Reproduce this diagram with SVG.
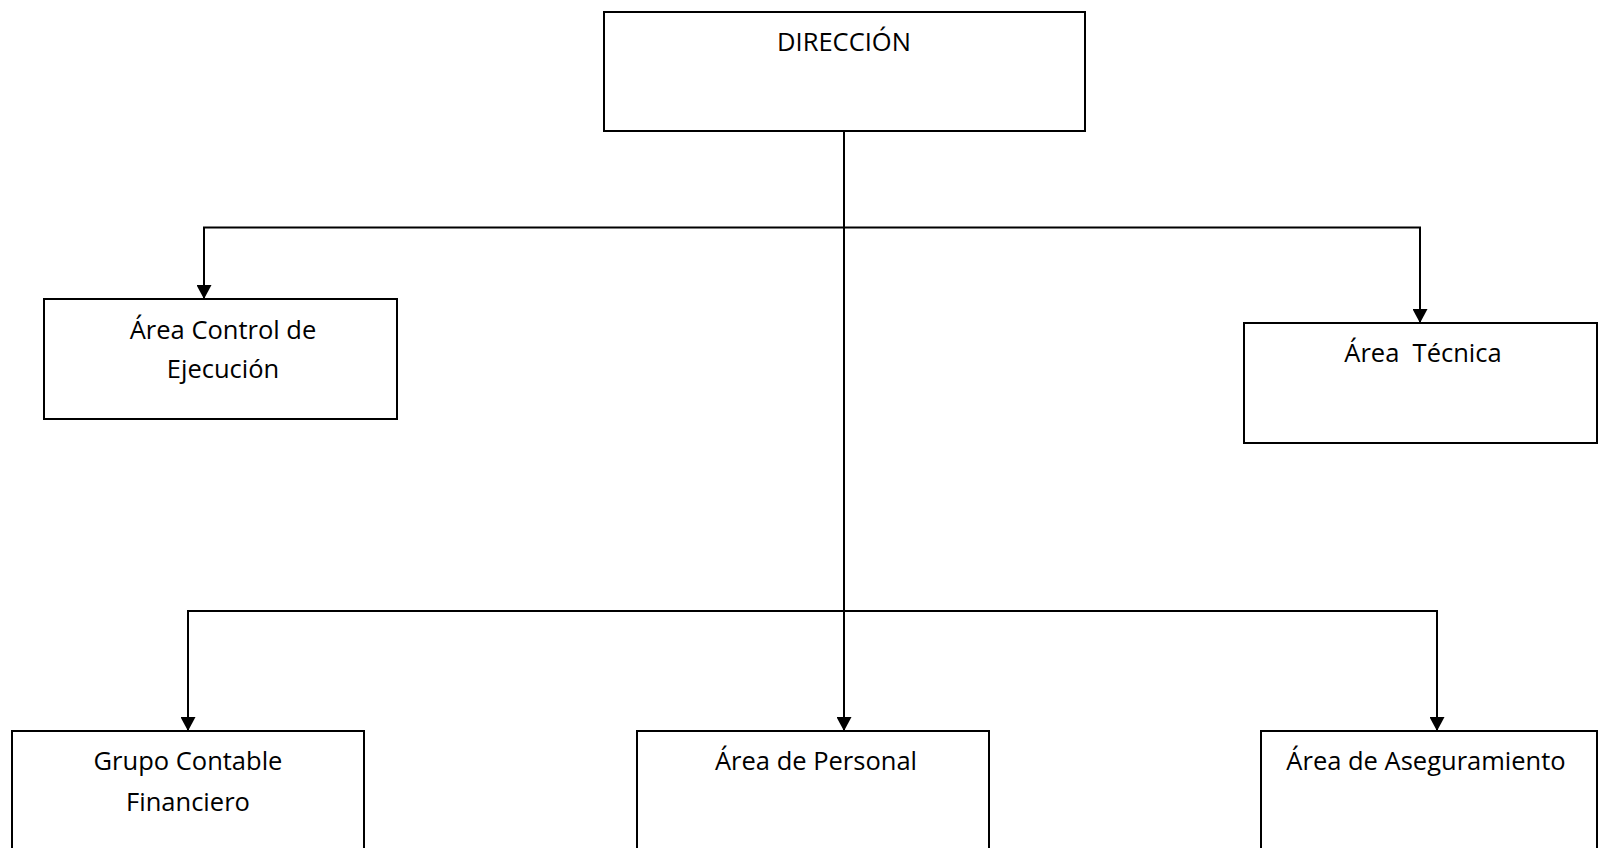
<svg xmlns="http://www.w3.org/2000/svg" width="1598" height="848" viewBox="0 0 1598 848">
<defs>
<style>
.box{fill:#fff;stroke:#000;stroke-width:2}
.ln{fill:none;stroke:#000;stroke-width:2}
.t{font-family:"Open Sans","Liberation Sans",sans-serif;font-size:25.5px;fill:#000;text-anchor:middle}
</style>
<marker id="ah" markerWidth="14" markerHeight="15" refX="14" refY="7.5" orient="auto" markerUnits="userSpaceOnUse">
<path d="M0,0 L14,7.5 L0,15 Z" fill="#000"/>
</marker>
</defs>
<rect width="1598" height="848" fill="#fff"/>
<g id="connectors">
<path class="ln" d="M844,131 V731" marker-end="url(#ah)"/>
<path class="ln" d="M844,227.5 H204 V299" marker-end="url(#ah)"/>
<path class="ln" d="M844,227.5 H1420 V323" marker-end="url(#ah)"/>
<path class="ln" d="M844,611 H188 V731" marker-end="url(#ah)"/>
<path class="ln" d="M844,611 H1437 V731" marker-end="url(#ah)"/>
</g>
<g id="direccion">
<rect class="box" x="604" y="12" width="481" height="119"/>
<text class="t" x="844" y="51">DIRECCIÓN</text>
</g>
<g id="control">
<rect class="box" x="44" y="299" width="353" height="120"/>
<text class="t" x="223" y="339">Área Control de</text>
<text class="t" x="223" y="378">Ejecución</text>
</g>
<g id="tecnica">
<rect class="box" x="1244" y="323" width="353" height="120"/>
<text class="t" x="1423" y="362" xml:space="preserve">Área  Técnica</text>
</g>
<g id="contable">
<rect class="box" x="12" y="731" width="352" height="130"/>
<text class="t" x="188" y="770">Grupo Contable</text>
<text class="t" x="188" y="811">Financiero</text>
</g>
<g id="personal">
<rect class="box" x="637" y="731" width="352" height="130"/>
<text class="t" x="816" y="770">Área de Personal</text>
</g>
<g id="aseguramiento">
<rect class="box" x="1261" y="731" width="336" height="130"/>
<text class="t" x="1426" y="770">Área de Aseguramiento</text>
</g>
</svg>
